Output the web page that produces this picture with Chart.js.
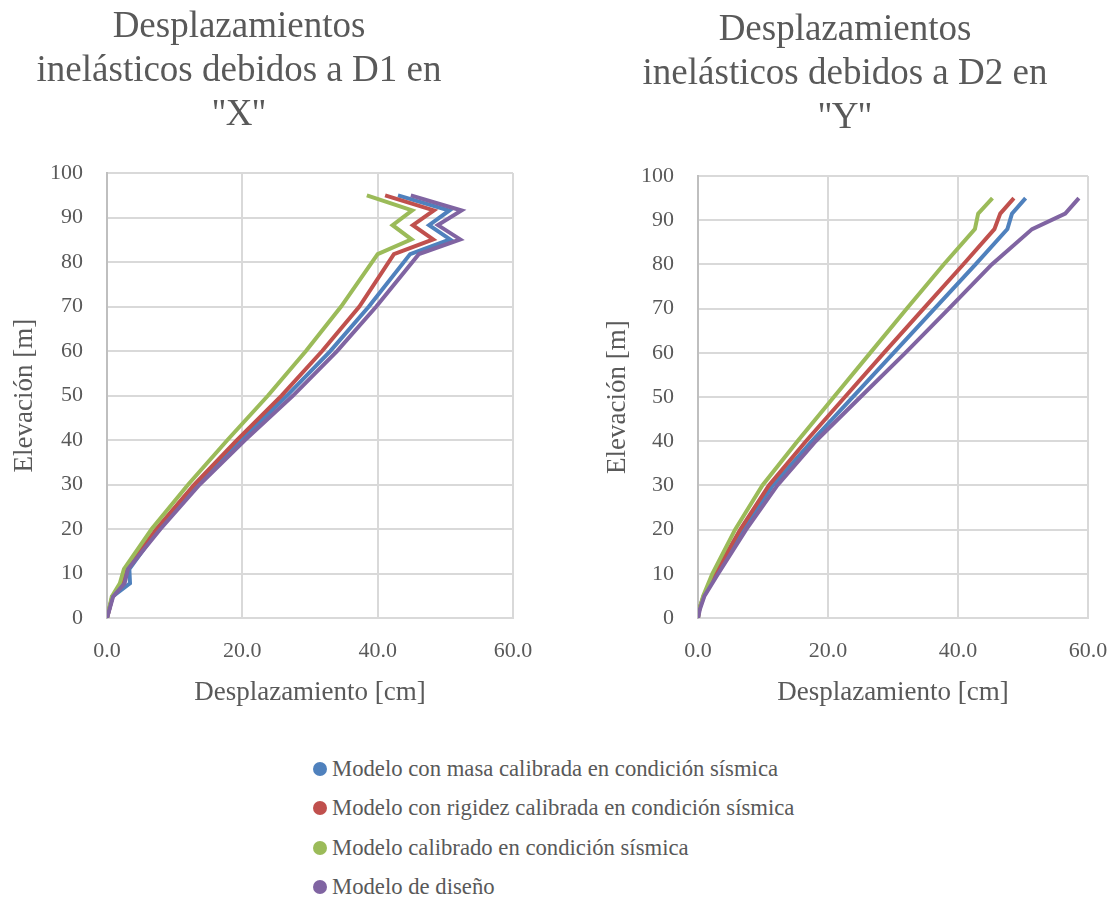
<!DOCTYPE html>
<html>
<head>
<meta charset="utf-8">
<script src="https://cdn.jsdelivr.net/npm/chart.js@4.4.1/dist/chart.umd.min.js"></script>
<style>
  body { margin: 0; background: #fff; width: 1112px; height: 897px; overflow: hidden; position: relative; font-family: "Liberation Serif", serif; }
  .box { position: absolute; top: 0; height: 740px; }
  #boxX { left: -60px; width: 598px; }
  #boxY { left: 580px; width: 540px; }
  #legend { position: absolute; left: 313px; top: 749px; color: #595959; font-size: 22.7px; }
  .item { height: 39.5px; display: flex; align-items: center; }
  .dot { width: 14px; height: 14px; border-radius: 50%; margin-right: 5px; }
</style>
</head>
<body>
<div class="box" id="boxX"><canvas id="chartX" width="598" height="740"></canvas></div>
<div class="box" id="boxY"><canvas id="chartY" width="540" height="740"></canvas></div>
<div id="legend"></div>

<script>
const seriesNames = [
    "Modelo con masa calibrada en condición sísmica",
    "Modelo con rigidez calibrada en condición sísmica",
    "Modelo calibrado en condición sísmica",
    "Modelo de diseño",
];
const seriesColors = ["#4F81BD", "#C0504D", "#9BBB59", "#8064A2"];

// D1 en "X": elevaciones [m] y desplazamientos [cm]
const elevX = [0, 4.8, 7.8, 11, 20, 30, 40, 50, 60, 70, 81.8, 85.1, 88.3, 91.6, 95];
const masaX = [0, 0.8, 3.4, 3.3, 7.6, 13.3, 19.8, 26.6, 33.0, 38.7, 44.8, 50.7, 47.6, 50.6, 43.0];
const rigidezX = [0, 0.8, 2.3, 2.9, 7.3, 12.9, 19.2, 25.8, 31.8, 37.3, 42.4, 48.2, 45.2, 48.3, 41.1];
const calibradoX = [0, 0.7, 1.9, 2.5, 6.6, 12.0, 17.8, 23.8, 29.4, 34.6, 40.0, 45.0, 42.2, 45.1, 38.4];
const disenoX = [0, 0.9, 2.6, 3.1, 7.9, 13.7, 20.4, 27.5, 34.0, 39.8, 46.1, 52.2, 48.9, 52.4, 44.9];

// D2 en "Y"
const elevY = [0, 2, 5, 10, 20, 30, 40, 50, 60, 70, 80, 88, 91.5, 95];
const masaY = [0, 0.2, 0.9, 2.8, 6.9, 11.5, 17.5, 23.8, 30.1, 36.4, 42.7, 47.6, 48.3, 50.4];
const rigidezY = [0, 0.2, 0.9, 2.6, 6.5, 10.9, 16.6, 22.6, 28.6, 34.7, 40.8, 45.6, 46.5, 48.6];
const calibradoY = [0, 0.2, 0.8, 2.2, 5.7, 9.9, 15.3, 20.9, 26.5, 32.1, 37.8, 42.6, 43.1, 45.3];
const disenoY = [0, 0.3, 1.0, 3.1, 7.4, 12.2, 18.1, 25.0, 31.9, 38.6, 45.2, 51.4, 56.5, 58.6];

const xTicks = [0, 20, 40, 60];
const yTicks = [0, 10, 20, 30, 40, 50, 60, 70, 80, 90, 100];

Chart.defaults.font.family = "'Liberation Serif', serif";
Chart.defaults.color = "#595959";

function toPoints(xs, ys) {
    return xs.map((x, i) => ({ x: x, y: ys[i] }));
}

function makeChart(canvasId, titleLines, elev, seriesValues, lay) {
    const datasets = seriesValues.map((vals, i) => ({
        label: seriesNames[i],
        data: toPoints(vals, elev),
        borderColor: seriesColors[i],
        backgroundColor: seriesColors[i],
        borderWidth: 4,
        pointRadius: 0,
        showLine: true,
        tension: 0,
        order: 4 - i,
    }));

    return new Chart(document.getElementById(canvasId), {
        type: "scatter",
        data: { datasets: datasets },
        options: {
            responsive: false,
            animation: false,
            layout: { padding: { left: lay.padLeft, right: lay.padRight, top: 0, bottom: 0 } },
            plugins: {
                legend: { display: false },
                tooltip: { enabled: false },
                title: {
                    display: true,
                    text: titleLines,
                    color: "#595959",
                    font: { size: 37, weight: "normal", lineHeight: 1.19 },
                    padding: { top: lay.titleTop, bottom: lay.titleBottom },
                },
            },
            scales: {
                x: {
                    type: "linear",
                    min: 0,
                    max: 60,
                    afterBuildTicks: (scale) => { scale.ticks = xTicks.map(v => ({ value: v })); },
                    afterFit: (scale) => {
                        scale.height = 122;
                        scale.paddingLeft = 0;
                        scale.paddingRight = 0;
                    },
                    ticks: { font: { size: 22 }, padding: 20, callback: (v) => v.toFixed(1) },
                    grid: { color: "#d9d9d9", lineWidth: 2, drawTicks: false },
                    border: { color: "#d9d9d9", width: 2 },
                    title: {
                        display: true,
                        text: "Desplazamiento [cm]",
                        font: { size: 27 },
                        padding: { top: 0, bottom: 31 },
                    },
                },
                y: {
                    type: "linear",
                    min: 0,
                    max: 100,
                    afterBuildTicks: (scale) => { scale.ticks = yTicks.map(v => ({ value: v })); },
                    afterFit: (scale) => { scale.width = lay.yWidth; },
                    ticks: { font: { size: 22 }, padding: 24 },
                    grid: { color: "#d9d9d9", lineWidth: 2, drawTicks: false },
                    border: { color: "#bfbfbf", width: 2 },
                    title: {
                        display: true,
                        text: "Elevación [m]",
                        font: { size: 27 },
                        padding: { top: lay.yTitlePad, bottom: 0 },
                    },
                },
            },
        },
    });
}

makeChart("chartX", ["Desplazamientos", "inelásticos debidos a D1 en", "''X''"], elevX,
    [masaX, rigidezX, calibradoX, disenoX],
    { padLeft: 25, padRight: 25, titleTop: 5, titleBottom: 36, yWidth: 142, yTitlePad: 44 });

makeChart("chartY", ["Desplazamientos", "inelásticos debidos a D2 en", "''Y''"], elevY,
    [masaY, rigidezY, calibradoY, disenoY],
    { padLeft: 22, padRight: 32, titleTop: 8, titleBottom: 36, yWidth: 96, yTitlePad: 0 });

// leyenda compartida
const legend = document.getElementById("legend");
seriesNames.forEach((name, i) => {
    const item = document.createElement("div");
    item.className = "item";
    const dot = document.createElement("span");
    dot.className = "dot";
    dot.style.background = seriesColors[i];
    const label = document.createElement("span");
    label.textContent = name;
    item.appendChild(dot);
    item.appendChild(label);
    legend.appendChild(item);
});
</script>
</body>
</html>
